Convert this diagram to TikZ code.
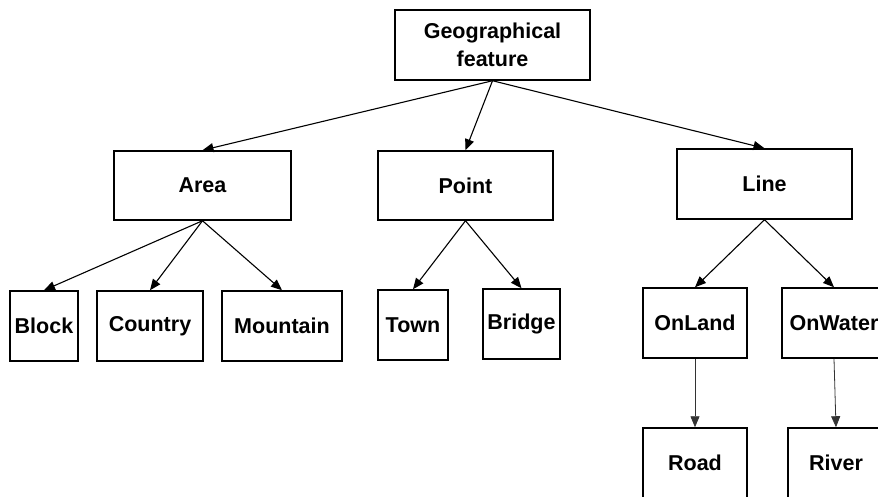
\documentclass[tikz,border=0pt]{standalone}
\usepackage{fontspec}
\setmainfont{Liberation Sans}
\usetikzlibrary{arrows.meta}
\tikzset{
  box/.style={draw=black, line width=1.5pt, rectangle, inner sep=0pt, align=center,
    font=\bfseries\fontsize{21.5}{28}\selectfont},
  conn/.style={line width=1.1pt, -{Triangle[length=11pt,width=9pt]}},
  vconn/.style={line width=0.8pt, black!80, -{Triangle[length=11pt,width=9pt]}}
}
\begin{document}
\begin{tikzpicture}[x=1pt,y=-1pt]
\useasboundingbox (0,0) rectangle (878,497);
\clip (0,0) rectangle (878,497);
\node[box, minimum width=195pt, minimum height=70pt] (geo) at (492.5,45) {Geographical\\feature};
\node[box, minimum width=177pt, minimum height=69pt] (area) at (202.5,185.5) {Area};
\node[box, minimum width=175pt, minimum height=69pt] (point) at (465.5,185.5) {Point};
\node[box, minimum width=175pt, minimum height=70pt] (line) at (764.5,184) {Line};
\node[box, minimum width=68pt, minimum height=70pt] (block) at (44,326) {Block};
\node[box, minimum width=106pt, minimum height=70pt] (country) at (150,326) {Country};
\node[box, minimum width=120pt, minimum height=70pt] (mountain) at (282,326) {Mountain};
\node[box, minimum width=70pt, minimum height=70pt] (town) at (413,325) {Town};
\node[box, minimum width=77pt, minimum height=70pt] (bridge) at (521.5,324) {Bridge};
\node[box, minimum width=104pt, minimum height=70pt] (onland) at (695,323) {OnLand};
\node[box, minimum width=104pt, minimum height=70pt] (onwater) at (834,323) {OnWater};
\node[box, minimum width=104pt, minimum height=70pt] (road) at (695,463) {Road};
\node[box, minimum width=96pt, minimum height=70pt] (river) at (836,463) {River};
\draw[conn] (geo.south) -- (area.north);
\draw[conn] (geo.south) -- (point.north);
\draw[conn] (geo.south) -- (line.north);
\draw[conn] (area.south) -- (block.north);
\draw[conn] (area.south) -- (country.north);
\draw[conn] (area.south) -- (mountain.north);
\draw[conn] (point.south) -- (town.north);
\draw[conn] (point.south) -- (bridge.north);
\draw[conn] (line.south) -- (onland.north);
\draw[conn] (line.south) -- (onwater.north);
\draw[vconn] (onland.south) -- (road.north);
\draw[vconn] (onwater.south) -- (river.north);
\end{tikzpicture}
\end{document}
